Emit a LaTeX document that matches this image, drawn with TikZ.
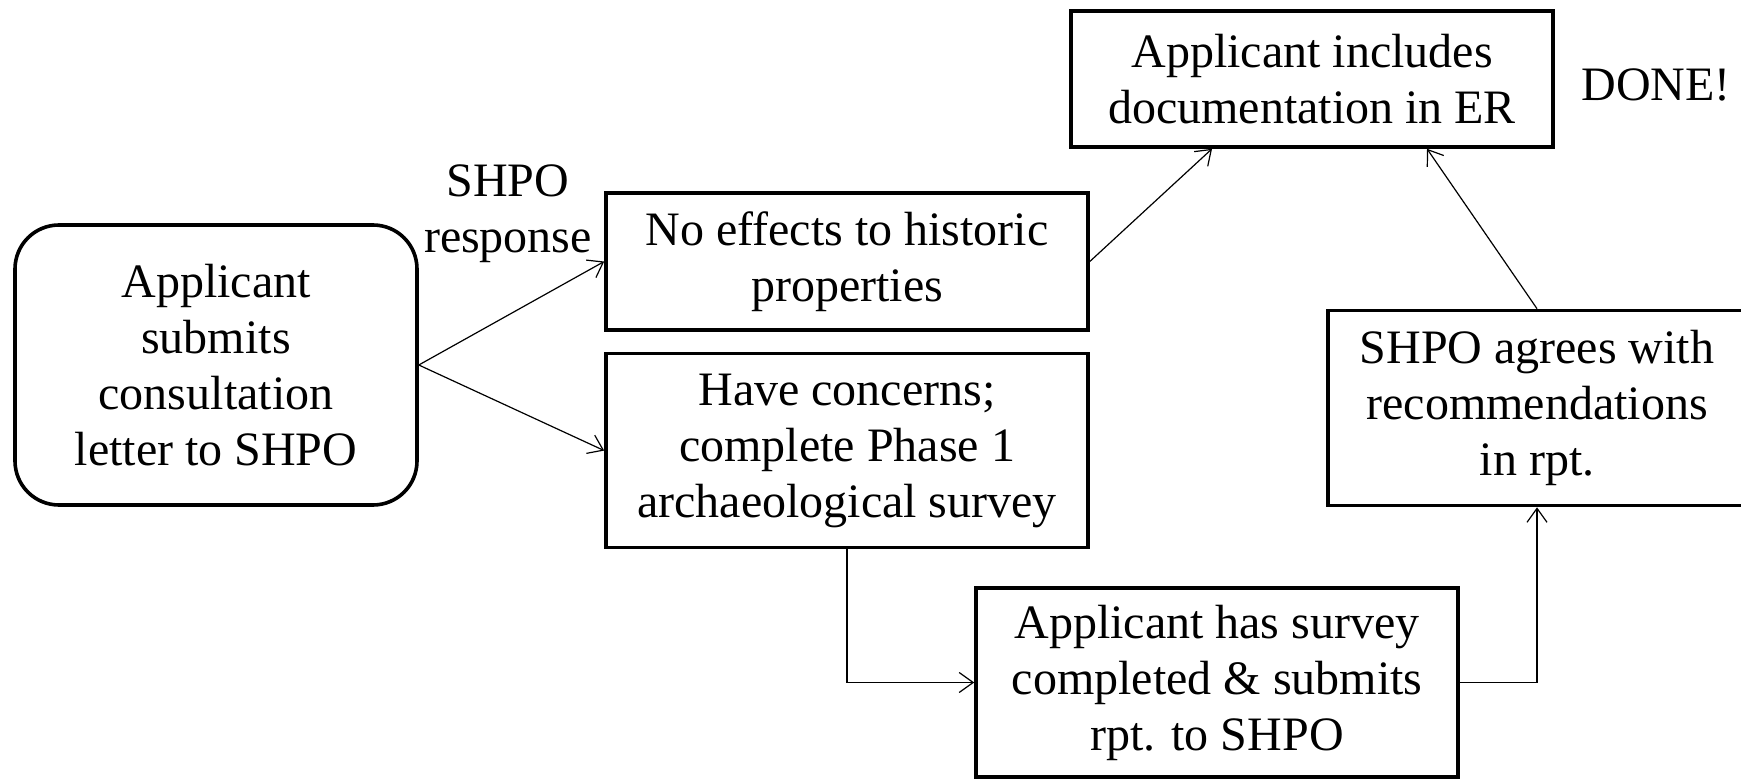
\documentclass[tikz,border=0pt]{standalone}
\usepackage{fontspec}
\setmainfont{Liberation Serif}
\usetikzlibrary{arrows.meta,positioning}
\tikzset{->, % every connector gets a head
>={Straight Barb[length=7pt,width=10pt]}, % thin open heads
every node/.style={font=\fontsize{24}{28}\selectfont, align=center},
}

\begin{document}
\begin{tikzpicture}[x=0.5pt, y=-0.5pt, line width=0.6pt,
	box/.style args = {#1/#2}{draw, -, line width=1.8pt, inner sep=0pt, minimum width=#1, minimum height=#2}]
\useasboundingbox (0,0) rectangle (1741,780);
\node[box=201pt/140pt, rounded corners=22pt] (start) at (216,365) {Applicant\\submits\\consultation\\letter to SHPO};
\node[box=241pt/68.5pt] (noeff) at (847,261.5) {No effects to historic\\properties};
\node[box=241pt/97pt, below=10pt of noeff] (concern) {Have concerns;\\complete Phase 1\\archaeological survey};
\node[box=241pt/68pt] (incl) at (1312,79) {Applicant includes\\documentation in ER};
\node[right=13pt of incl, yshift=-3pt, inner sep=0pt] (done) {DONE!};
\node[box=209pt/97.5pt] (agree) at (1537,408) {SHPO agrees with\\recommendations\\in rpt.};
\node[box=241pt/94.5pt] (survey) at (1217,682.5) {Applicant has survey\\completed \& submits\\rpt. to SHPO};
\node (resp) at (508,214) {SHPO\\response};
% \draw (start) -- (resp);
\draw (start.east) -- (noeff.west);
\draw (start.east) -- (concern.west);
\draw (noeff.east) -- ([xshift=-50pt]incl.south);
\draw (agree.north) -- ([xshift=57.5pt]incl.south);
\draw (concern.south) |- (survey.west);
\draw (survey.east) -| (agree.south);
\end{tikzpicture}
\end{document}
